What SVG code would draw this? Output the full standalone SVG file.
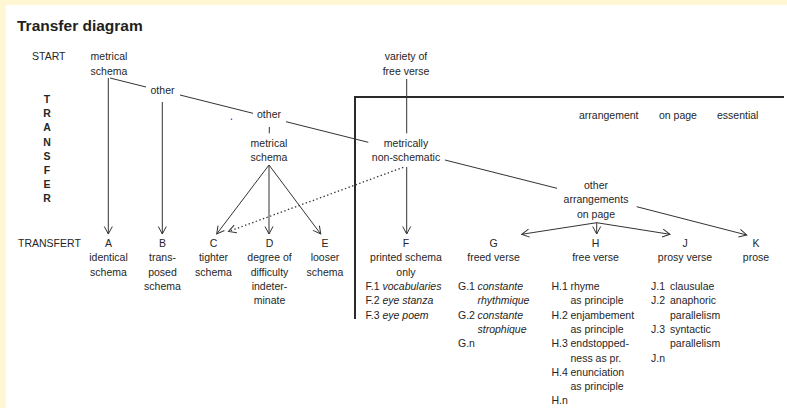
<svg xmlns="http://www.w3.org/2000/svg" width="787" height="408" viewBox="0 0 787 408">
<style>
text{font-family:"Liberation Sans",Arial,sans-serif;font-size:10.5px;fill:#262626}
.c{text-anchor:middle}
.b{font-weight:bold}
.i{font-style:italic}
.title{font-size:15.5px;font-weight:bold;fill:#231f20}
.ln{stroke:#333333;stroke-width:1;fill:none}
.ar{marker-end:url(#ah)}
.dot{stroke-dasharray:1.4 2.4;stroke-width:1.3}
.box{stroke:#2a2a2a;stroke-width:2;fill:none}
</style>
<defs>
<marker id="ah" markerUnits="userSpaceOnUse" markerWidth="10" markerHeight="10" refX="8" refY="4.5" orient="auto" viewBox="0 0 10 9">
<path d="M0.5,0.5 L8,4.5 L0.5,8.5" fill="none" stroke="#333333" stroke-width="1"/>
</marker>
</defs>
<rect x="0" y="0" width="787" height="408" fill="#ffffff"/>
<rect x="0" y="0" width="787" height="5" fill="#fff7d4"/>
<rect x="0" y="0" width="6" height="408" fill="#fff7d4"/>

<g id="title"><text class="title" x="17" y="31">Transfer diagram</text></g>
<g id="start"><text x="32" y="60">START</text></g>
<g id="transfer">
<text class="b c" x="47" y="103">T</text>
<text class="b c" x="47" y="117.2">R</text>
<text class="b c" x="47" y="131.4">A</text>
<text class="b c" x="47" y="145.6">N</text>
<text class="b c" x="47" y="159.8">S</text>
<text class="b c" x="47" y="174">F</text>
<text class="b c" x="47" y="188.2">E</text>
<text class="b c" x="47" y="202.4">R</text>
</g>
<g id="transfert"><text x="18" y="247">TRANSFERT</text></g>

<g id="frame"><path class="box" d="M355,319 V97 H784"/></g>
<g id="essential">
<text x="579" y="119">arrangement</text>
<text x="659" y="119">on page</text>
<text x="717" y="119">essential</text>
</g>
<circle cx="231.5" cy="119.3" r="0.8" fill="#3344cc"/>

<g id="n-metrical-schema"><text class="c" x="109" y="60">metrical</text><text class="c" x="109" y="74.5">schema</text></g>
<g id="n-other1"><text class="c" x="162.5" y="94">other</text></g>
<g id="n-other2"><text class="c" x="269" y="118">other</text></g>
<g id="n-metrical-schema2"><text class="c" x="269" y="146.5">metrical</text><text class="c" x="269" y="161">schema</text></g>
<g id="n-variety"><text class="c" x="406" y="60">variety of</text><text class="c" x="406" y="74.5">free verse</text></g>
<g id="n-metrically"><text class="c" x="406" y="146.5">metrically</text><text class="c" x="406" y="161">non-schematic</text></g>
<g id="n-other-arr"><text class="c" x="596" y="189">other</text><text class="c" x="596" y="203.3">arrangements</text><text class="c" x="596" y="217.6">on page</text></g>

<g id="n-A"><text class="c" x="108.5" y="247">A</text><text class="c" x="108.5" y="261.3">identical</text><text class="c" x="108.5" y="275.6">schema</text></g>
<g id="n-B"><text class="c" x="162.5" y="247">B</text><text class="c" x="162.5" y="261.3">trans-</text><text class="c" x="162.5" y="275.6">posed</text><text class="c" x="162.5" y="290">schema</text></g>
<g id="n-C"><text class="c" x="213.5" y="247">C</text><text class="c" x="213.5" y="261.3">tighter</text><text class="c" x="213.5" y="275.6">schema</text></g>
<g id="n-D"><text class="c" x="269.5" y="247">D</text><text class="c" x="269.5" y="261.3">degree of</text><text class="c" x="269.5" y="275.6">difficulty</text><text class="c" x="269.5" y="290">indeter-</text><text class="c" x="269.5" y="304.3">minate</text></g>
<g id="n-E"><text class="c" x="325" y="247">E</text><text class="c" x="325" y="261.3">looser</text><text class="c" x="325" y="275.6">schema</text></g>

<g id="n-F">
<text class="c" x="406" y="247">F</text><text class="c" x="406" y="261.3">printed schema</text><text class="c" x="406" y="275.6">only</text>
<text x="365.5" y="290">F.1</text><text class="i" x="382.5" y="290">vocabularies</text>
<text x="365.5" y="304.3">F.2</text><text class="i" x="382.5" y="304.3">eye stanza</text>
<text x="365.5" y="318.6">F.3</text><text class="i" x="382.5" y="318.6">eye poem</text>
</g>
<g id="n-G">
<text class="c" x="493.5" y="247">G</text><text class="c" x="493.5" y="261.3">freed verse</text>
<text x="458" y="290">G.1</text><text class="i" x="477.5" y="290">constante</text>
<text class="i" x="477.5" y="304.3">rhythmique</text>
<text x="458" y="318.6">G.2</text><text class="i" x="477.5" y="318.6">constante</text>
<text class="i" x="477.5" y="332.9">strophique</text>
<text x="458" y="347.2">G.n</text>
</g>
<g id="n-H">
<text class="c" x="595.5" y="247">H</text><text class="c" x="595.5" y="261.3">free verse</text>
<text x="551.5" y="290">H.1</text><text x="570.5" y="290">rhyme</text>
<text x="570.5" y="304.3">as principle</text>
<text x="551.5" y="318.6">H.2</text><text x="570.5" y="318.6">enjambement</text>
<text x="570.5" y="332.9">as principle</text>
<text x="551.5" y="347.2">H.3</text><text x="570.5" y="347.2">endstopped-</text>
<text x="570.5" y="361.5">ness as pr.</text>
<text x="551.5" y="375.8">H.4</text><text x="570.5" y="375.8">enunciation</text>
<text x="570.5" y="390.1">as principle</text>
<text x="551.5" y="404.4">H.n</text>
</g>
<g id="n-J">
<text class="c" x="685" y="247">J</text><text class="c" x="685" y="261.3">prosy verse</text>
<text x="651" y="290">J.1</text><text x="670" y="290">clausulae</text>
<text x="651" y="304.3">J.2</text><text x="670" y="304.3">anaphoric</text>
<text x="670" y="318.6">parallelism</text>
<text x="651" y="332.9">J.3</text><text x="670" y="332.9">syntactic</text>
<text x="670" y="347.2">parallelism</text>
<text x="651" y="361.5">J.n</text>
</g>
<g id="n-K"><text class="c" x="756" y="247">K</text><text class="c" x="756" y="261.3">prose</text></g>

<g id="connectors">
<path class="ln ar" d="M108.3,78 V234"/>
<path class="ln" d="M110,78 L146,87"/>
<path class="ln" d="M180,95 L253,113.3"/>
<path class="ln ar" d="M162.3,102 V234"/>
<path class="ln" d="M269.3,127 V133.3"/>
<path class="ln" d="M286,121.7 L368.3,142.3"/>
<path class="ln" d="M406.7,79 V133.3"/>
<path class="ln" d="M445,160 L557,188.3"/>
<path class="ln ar" d="M269,165 L216.7,234"/>
<path class="ln ar" d="M269,165 V234"/>
<path class="ln ar" d="M269,165 L320.7,234"/>
<path class="ln ar dot" d="M403.3,167.3 L228.5,231.5"/>
<path class="ln ar" d="M406.7,167 V234"/>
<path class="ln ar" d="M636.7,206.7 L746.7,235"/>
<path class="ln ar" d="M596.7,222.7 L521.7,234.3"/>
<path class="ln ar" d="M596.7,222.7 V234"/>
<path class="ln ar" d="M596.7,222.7 L670,234.3"/>
</g>
</svg>
